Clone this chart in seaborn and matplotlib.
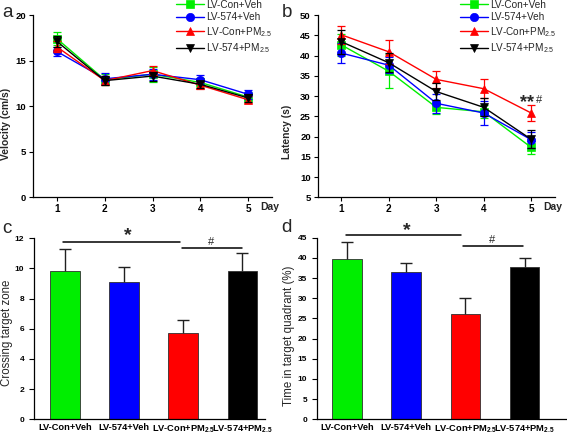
import matplotlib
matplotlib.use('Agg')
import matplotlib.pyplot as plt
import matplotlib.transforms as mtransforms
from matplotlib.font_manager import FontProperties
import seaborn as sns
import numpy as np
import pandas as pd

# ---------------- data ----------------
days = [1, 2, 3, 4, 5]
groups = ['LV-Con+Veh', 'LV-574+Veh', 'LV-Con+PM$_{2.5}$', 'LV-574+PM$_{2.5}$']
colors = ['#00ee00', '#0000ff', '#ff0000', '#000000']
markers = ['s', 'o', '^', 'v']

velocity_con_veh = [17.4, 12.9, 13.5, 12.6, 11.0]
velocity_574_veh = [16.0, 13.0, 13.5, 12.9, 11.3]
velocity_con_pm = [16.5, 12.8, 13.9, 12.3, 10.7]
velocity_574_pm = [17.1, 12.8, 13.3, 12.4, 10.9]
velocity_err_con_veh = [0.7, 0.6, 0.8, 0.5, 0.5]
velocity_err_574_veh = [0.5, 0.6, 0.6, 0.5, 0.5]
velocity_err_con_pm = [0.6, 0.5, 0.5, 0.4, 0.4]
velocity_err_574_pm = [0.6, 0.5, 0.5, 0.4, 0.4]

latency_con_veh = [42.6, 36.1, 27.2, 26.1, 17.3]
latency_574_veh = [40.6, 37.6, 28.2, 25.8, 19.2]
latency_con_pm = [45.1, 40.9, 34.1, 31.8, 25.8]
latency_574_pm = [43.4, 38.2, 31.1, 27.2, 19.3]
latency_err_con_veh = [2.8, 4.2, 1.6, 1.6, 1.6]
latency_err_574_veh = [2.5, 2.0, 2.3, 2.9, 2.0]
latency_err_con_pm = [2.3, 2.9, 2.0, 2.3, 1.9]
latency_err_574_pm = [3.0, 2.3, 2.1, 2.2, 2.2]

crossing = [9.85, 9.1, 5.72, 9.8]
crossing_err = [1.43, 1.02, 0.87, 1.2]
time_quadrant = [39.7, 36.5, 26.0, 37.8]
time_quadrant_err = [4.3, 2.3, 4.1, 2.2]

velocity_ticks = [0, 5, 10, 15, 20]
latency_ticks = [5, 10, 15, 20, 25, 30, 35, 40, 45, 50]
crossing_ticks = [0, 2, 4, 6, 8, 10, 12]
time_ticks = [0, 5, 10, 15, 20, 25, 30, 35, 40, 45]

# ---------------- style ----------------
sns.set_theme(style='ticks')
plt.rcParams['font.family'] = ['Liberation Sans', 'DejaVu Sans']
plt.rcParams['mathtext.default'] = 'regular'
NARROW = ['Liberation Sans Narrow', 'Liberation Sans', 'DejaVu Sans']
REG = ['Liberation Sans', 'DejaVu Sans']

W, H = 567, 436
fig = plt.figure(figsize=(W / 100, H / 100), dpi=100)


def add_ax(l, t, r, b):
    return fig.add_axes([l / W, 1 - b / H, (r - l) / W, (b - t) / H])


axa = add_ax(33, 15, 272, 197.3)
axb = add_ax(317.7, 15, 555, 197.3)
axc = add_ax(34, 238.3, 265, 419.3)
axd = add_ax(316.7, 237.7, 566, 419.3)


def style_axes(ax):
    for s in ['top', 'right']:
        ax.spines[s].set_visible(False)
    for s in ['left', 'bottom']:
        ax.spines[s].set_color('black')
        ax.spines[s].set_linewidth(0.9)
    ax.tick_params(colors='black', direction='out', width=0.8)


def line_panel(ax, means, errs, ylim, yticks, ylabel, label_xy, legend_x):
    for g, m, e, c, mk in zip(groups, means, errs, colors, markers):
        sns.lineplot(x=days, y=m, color=c, marker=mk, markersize=6,
                     markeredgecolor=c, markeredgewidth=0.5, linewidth=1.0,
                     label=g, ax=ax, errorbar=None)
        ax.errorbar(days, m, yerr=e, fmt='none', ecolor=c, elinewidth=0.9,
                    capsize=3, capthick=0.9)
    style_axes(ax)
    ax.set_xlim(0.5, 5.5)
    ax.set_ylim(*ylim)
    tfp = FontProperties(family=NARROW, weight='bold', size=7.2)
    ax.set_xticks(days)
    ax.set_xticklabels([str(d) for d in days], fontproperties=tfp)
    ax.set_yticks(yticks)
    ax.set_yticklabels([str(v) for v in yticks],
                       fontproperties=FontProperties(family=NARROW, weight='bold', size=6.8))
    ax.tick_params(length=3, pad=2)
    ax.set_xlabel('')
    ax.set_ylabel(ylabel, fontproperties=FontProperties(family=NARROW, weight='bold', size=7.4))
    ax.yaxis.set_label_coords(*label_xy)
    trans = mtransforms.blended_transform_factory(ax.transData, ax.transAxes)
    ax.text(5.25, -0.07, 'Day', transform=trans, ha='left', va='baseline',
            fontproperties=FontProperties(family=NARROW, weight='bold', size=7.5))
    handles, labels = ax.get_legend_handles_labels()
    ax.legend(handles, labels, loc='upper left', bbox_to_anchor=(legend_x / W, 1.0),
              bbox_transform=fig.transFigure, frameon=False,
              prop=FontProperties(family=REG, size=7.2), handlelength=2.8,
              handletextpad=0.2, labelspacing=0.25, borderpad=0, borderaxespad=0)


line_panel(axa,
           [velocity_con_veh, velocity_574_veh, velocity_con_pm, velocity_574_pm],
           [velocity_err_con_veh, velocity_err_574_veh, velocity_err_con_pm, velocity_err_574_pm],
           (0, 20), velocity_ticks, 'Velocity (cm/s)', (-0.092, 0.403), 176)
line_panel(axb,
           [latency_con_veh, latency_574_veh, latency_con_pm, latency_574_pm],
           [latency_err_con_veh, latency_err_574_veh, latency_err_con_pm, latency_err_574_pm],
           (5, 50), latency_ticks, 'Latency (s)', (-0.107, 0.357), 460)

axb.text(5.05, 27.2, '**', ha='right', va='baseline', fontsize=13, fontweight='bold')
axb.text(5.1, 28.2, '#', ha='left', va='baseline', fontsize=8)


def bar_panel(ax, vals, errs, ylim, yticks, ylabel, label_xy, xlim):
    df = pd.DataFrame({'group': groups, 'value': vals})
    sns.barplot(data=df, x='group', y='value', hue='group', palette=colors,
                saturation=1, width=0.5, edgecolor='#303030', linewidth=0.6,
                legend=False, ax=ax, errorbar=None)
    cont = ax.errorbar(range(len(vals)), vals, yerr=[np.zeros(len(errs)), errs],
                       fmt='none', ecolor='#202020', elinewidth=1, capsize=4, capthick=1)
    cont[1][0].set_visible(False)
    style_axes(ax)
    ax.set_xlim(*xlim)
    ax.set_ylim(*ylim)
    ax.set_yticks(yticks)
    ax.set_yticklabels([str(v) for v in yticks],
                       fontproperties=FontProperties(family=REG, weight='bold', size=6))
    ax.set_xticks(range(len(groups)))
    ax.set_xticklabels(groups, fontproperties=FontProperties(family=REG, weight='bold', size=6.7))
    ax.tick_params(axis='y', length=3.5, pad=3.5)
    ax.tick_params(axis='x', length=0, pad=3)
    ax.set_xlabel('')
    ax.set_ylabel(ylabel, fontproperties=FontProperties(family=REG, size=8.3))
    ax.yaxis.set_label_coords(*label_xy)


bar_panel(axc, crossing, crossing_err, (0, 12), crossing_ticks, 'Crossing target zone',
          (-0.092, 0.48), (-0.52, 3.38))
bar_panel(axd, time_quadrant, time_quadrant_err, (0, 45), time_ticks, 'Time in target quadrant (%)',
          (-0.087, 0.46), (-0.51, 3.7))

# significance marks
axc.plot([-0.03, 1.95], [11.74, 11.74], color='black', lw=1.1, clip_on=False)
axc.plot([1.98, 2.99], [11.34, 11.34], color='black', lw=1.1, clip_on=False)
axc.text(1.06, 11.85, '*', ha='center', va='baseline', fontsize=14, fontweight='bold', clip_on=False)
axc.text(2.47, 11.56, '#', ha='center', va='baseline', fontsize=8, clip_on=False)

axd.plot([-0.02, 1.93], [45.67, 45.67], color='black', lw=1.1, clip_on=False)
axd.plot([1.96, 2.98], [43.0, 43.0], color='black', lw=1.1, clip_on=False)
axd.text(1.005, 45.6, '*', ha='center', va='baseline', fontsize=14, fontweight='bold', clip_on=False)
axd.text(2.46, 43.6, '#', ha='center', va='baseline', fontsize=8, clip_on=False)

# panel letters
for letter, x, y in [('a', 2, 17), ('b', 282, 17), ('c', 2, 233), ('d', 281, 232)]:
    fig.text(x / W, 1 - y / H, letter, fontsize=13.5, ha='left', va='baseline')

fig.savefig('out.png', dpi=100)
